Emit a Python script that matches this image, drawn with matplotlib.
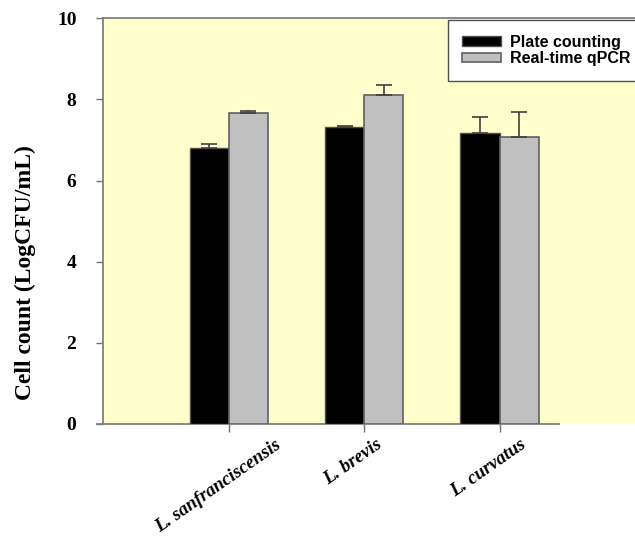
import numpy as np
import matplotlib
matplotlib.use("Agg")
import matplotlib.pyplot as plt

species = ["L. sanfranciscensis", "L. brevis", "L. curvatus"]
plate_mean = [6.80, 7.33, 7.18]
plate_err = [0.10, 0.02, 0.39]
qpcr_mean = [7.66, 8.10, 7.08]
qpcr_err = [0.05, 0.25, 0.60]
yticks = [0, 2, 4, 6, 8, 10]

serif = "Liberation Serif"
sans = "Liberation Sans"

fig = plt.figure(figsize=(6.35, 5.36), dpi=100)
ax = fig.add_axes([0.162, 0.209, 0.838, 0.757])
ax.set_facecolor("#ffffcc")

x = np.arange(len(species))
w = 0.29
ekw = dict(ecolor="#404040", elinewidth=1.2, capthick=1.2)
ax.bar(x - w / 2, plate_mean, w, yerr=[np.zeros(3), plate_err], capsize=6,
       color="black", edgecolor="#505050", linewidth=1, label="Plate counting",
       error_kw=ekw, zorder=3)
ax.bar(x + w / 2, qpcr_mean, w, yerr=[np.zeros(3), qpcr_err], capsize=6,
       color="#c0c0c0", edgecolor="#606060", linewidth=1.2, label="Real-time qPCR",
       error_kw=ekw, zorder=3)

ax.set_xlim(-0.93, 3.0)
ax.set_ylim(0, 10)
ax.set_yticks(yticks)
ax.set_yticklabels([str(v) for v in yticks], fontfamily=serif, fontweight="bold", fontsize=14)

# names sit slightly left of the group centre; tick marks go on the minor ticks
ax.set_xticks(x - 0.08)
ax.set_xticklabels(species, rotation=35, ha="center", va="top",
                   fontfamily=serif, fontweight="bold", fontstyle="italic", fontsize=13.5)
ax.set_xticks(x, minor=True)
ax.tick_params(axis="x", which="major", length=0, pad=9)
ax.tick_params(axis="x", which="minor", direction="out", length=6, width=1, color="#707070")
ax.tick_params(axis="y", direction="out", length=5, width=1, color="#707070", pad=14)

for s in ["left", "top", "bottom"]:
    ax.spines[s].set_color("#808080")
    ax.spines[s].set_linewidth(1.3)
ax.spines["right"].set_visible(False)
ax.spines["bottom"].set_bounds(-0.97, 2.44)
ax.spines["bottom"].set_clip_on(False)

ax.set_ylabel("Cell count (LogCFU/mL)", fontfamily=serif, fontweight="bold", fontsize=17)
ax.yaxis.set_label_coords(-0.126, 0.372)

leg = ax.legend(loc="upper left", bbox_to_anchor=(0.6485, 0.995), borderaxespad=0,
                fancybox=False, frameon=True, framealpha=1, edgecolor="#505050",
                prop=dict(family=sans, weight="bold", size=11.5),
                handlelength=2.4, handleheight=0.55, handletextpad=0.6,
                borderpad=0.9, labelspacing=0.1)
leg.get_frame().set_linewidth(1.0)

fig.savefig("out.png", dpi=100)
